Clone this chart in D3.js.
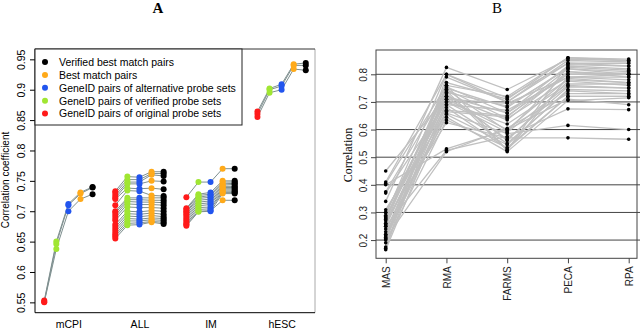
<!DOCTYPE html>
<html>
<head>
<meta charset="utf-8">
<script src="https://cdn.jsdelivr.net/npm/d3@7"></script>
<style>
  body { margin: 0; background: #fff; }
  text { font-family: "Liberation Sans", Arial, sans-serif; }
</style>
</head>
<body>
<script>
// ---- panel A data: one row per gene, values in series order ----
var groupsA = ["mCPI", "ALL", "IM", "hESC"];
var seriesA = ["GeneID pairs of original probe sets", "GeneID pairs of verified probe sets",
               "GeneID pairs of alternative probe sets", "Best match pairs", "Verified best match pairs"];
var colorsA = ["#ff1a1a", "#a0e632", "#2255ee", "#ffaa1a", "#000000"];
var yTicksA = [0.55, 0.6, 0.65, 0.7, 0.75, 0.8, 0.85, 0.9, 0.95];

var mcpiRows = [[0.553, 0.650, 0.712, 0.731, 0.740],
                [0.551, 0.646, 0.710, 0.729, 0.739],
                [0.550, 0.638, 0.700, 0.720, 0.728]];
var allRows = [[0.733, 0.757, 0.756, 0.765, 0.765],
               [0.730, 0.752, 0.752, 0.762, 0.762],
               [0.726, 0.748, 0.748, 0.760, 0.758],
               [0.722, 0.745, 0.745, 0.750, 0.749],
               [0.720, 0.738, 0.737, 0.738, 0.736],
               [0.710, 0.734, 0.733, 0.726, 0.725],
               [0.700, 0.722, 0.722, 0.722, 0.722],
               [0.697, 0.719, 0.719, 0.718, 0.718],
               [0.693, 0.716, 0.715, 0.715, 0.714],
               [0.689, 0.712, 0.711, 0.711, 0.710],
               [0.685, 0.707, 0.706, 0.706, 0.705],
               [0.678, 0.700, 0.699, 0.701, 0.700],
               [0.674, 0.696, 0.695, 0.697, 0.695],
               [0.670, 0.692, 0.691, 0.693, 0.691],
               [0.666, 0.688, 0.687, 0.689, 0.688],
               [0.662, 0.684, 0.684, 0.686, 0.685],
               [0.659, 0.680, 0.681, 0.683, 0.682],
               [0.655, 0.677, 0.678, 0.682, 0.679]];
var imRows = [[0.723, 0.748, 0.748, 0.770, 0.770],
              [0.705, 0.728, 0.731, 0.750, 0.750],
              [0.703, 0.726, 0.728, 0.748, 0.748],
              [0.700, 0.723, 0.726, 0.745, 0.746],
              [0.698, 0.721, 0.723, 0.743, 0.744],
              [0.695, 0.718, 0.720, 0.741, 0.741],
              [0.692, 0.715, 0.717, 0.739, 0.739],
              [0.689, 0.712, 0.714, 0.737, 0.737],
              [0.686, 0.709, 0.711, 0.735, 0.735],
              [0.683, 0.706, 0.707, 0.733, 0.733],
              [0.680, 0.703, 0.704, 0.731, 0.731],
              [0.678, 0.700, 0.701, 0.718, 0.718],
              [0.676, 0.699, 0.700, 0.729, 0.729]];
var hescRows = [[0.864, 0.902, 0.909, 0.942, 0.944],
                [0.860, 0.900, 0.906, 0.940, 0.940],
                [0.855, 0.895, 0.900, 0.934, 0.932]];

// ---- panel B data: one row per gene, values per method ----
var methodsB = ["MAS", "RMA", "FARMS", "PECA", "RPA"];
var yTicksB = [0.2, 0.3, 0.4, 0.5, 0.6, 0.7, 0.8];
var rowsB = [[0.450, 0.720, 0.660, 0.800, 0.800],
             [0.410, 0.800, 0.700, 0.840, 0.830],
             [0.405, 0.760, 0.720, 0.860, 0.855],
             [0.400, 0.530, 0.600, 0.710, 0.690],
             [0.375, 0.745, 0.640, 0.780, 0.770],
             [0.370, 0.700, 0.590, 0.760, 0.750],
             [0.340, 0.825, 0.745, 0.855, 0.850],
             [0.310, 0.660, 0.585, 0.615, 0.600],
             [0.300, 0.735, 0.685, 0.820, 0.810],
             [0.290, 0.800, 0.715, 0.840, 0.840],
             [0.285, 0.690, 0.550, 0.740, 0.730],
             [0.280, 0.755, 0.660, 0.830, 0.820],
             [0.275, 0.720, 0.635, 0.810, 0.790],
             [0.270, 0.625, 0.570, 0.570, 0.565],
             [0.260, 0.680, 0.530, 0.720, 0.720],
             [0.255, 0.710, 0.695, 0.790, 0.780],
             [0.250, 0.525, 0.575, 0.675, 0.672],
             [0.240, 0.645, 0.520, 0.705, 0.715],
             [0.230, 0.730, 0.560, 0.775, 0.760],
             [0.220, 0.670, 0.650, 0.800, 0.805],
             [0.215, 0.760, 0.525, 0.835, 0.830],
             [0.210, 0.655, 0.545, 0.745, 0.740],
             [0.205, 0.520, 0.605, 0.730, 0.730],
             [0.200, 0.700, 0.620, 0.765, 0.765],
             [0.190, 0.635, 0.535, 0.720, 0.720],
             [0.175, 0.790, 0.700, 0.850, 0.845],
             [0.170, 0.745, 0.595, 0.810, 0.800],
             [0.165, 0.690, 0.670, 0.790, 0.790],
             [0.300, 0.720, 0.565, 0.755, 0.750],
             [0.280, 0.750, 0.680, 0.825, 0.815],
             [0.250, 0.710, 0.600, 0.785, 0.770],
             [0.220, 0.665, 0.645, 0.820, 0.800],
             [0.260, 0.770, 0.710, 0.860, 0.850],
             [0.205, 0.740, 0.525, 0.790, 0.800]];

var width = 640;
var height = 329;

var svg = d3.select("body").append("svg").attr("width", width).attr("height", height);

// ================= panel A =================
var xA = d3.scaleLinear().domain([0.53, 4.47]).range([35, 315]);
var yA = d3.scaleLinear().domain([0.533, 0.967]).range([312.7, 49]);
var offsetsA = [-0.34, -0.17, 0, 0.17, 0.34];

function drawPanelA() {
    var g = svg.append("g");
    var allGroups = [mcpiRows, allRows, imRows, hescRows];

    g.append("text").attr("x", 158).attr("y", 13).attr("text-anchor", "middle")
        .style("font-family", "'Liberation Serif', 'DejaVu Serif', serif")
        .style("font-size", "15px").style("font-weight", "bold").text("A");

    // frame
    g.append("line").attr("x1", 315).attr("x2", 315).attr("y1", 49).attr("y2", 312.7)
        .attr("stroke", "#aaa").attr("stroke-width", 1);
    g.append("line").attr("x1", 35).attr("x2", 315).attr("y1", 49).attr("y2", 49)
        .attr("stroke", "#333").attr("stroke-width", 1);

    var line = d3.line().x(function(d) { return d[0]; }).y(function(d) { return d[1]; });

    allGroups.forEach(function(rows, gi) {
        rows.forEach(function(row) {
            var pts = row.map(function(v, si) { return [xA(gi + 1 + offsetsA[si]), yA(v)]; });
            g.append("path").attr("d", line(pts)).attr("fill", "none")
                .attr("stroke", "#7f9090").attr("stroke-width", 1);
        });
    });
    allGroups.forEach(function(rows, gi) {
        seriesA.forEach(function(s, si) {
            g.selectAll(null).data(rows).enter().append("circle")
                .attr("cx", xA(gi + 1 + offsetsA[si]))
                .attr("cy", function(d) { return yA(d[si]); })
                .attr("r", 3)
                .attr("fill", colorsA[si]);
        });
    });

    // y axis
    var yAxis = g.append("g").attr("transform", "translate(35,0)")
        .call(d3.axisLeft(yA).tickValues(yTicksA).tickSize(5).tickFormat(function(d) { return String(+d.toFixed(2)); }));
    yAxis.select(".domain").attr("d", "M0,49V312.7").attr("stroke", "#000");
    yAxis.selectAll("text").attr("transform", "rotate(-90)").attr("x", 0).attr("y", -10.5)
        .attr("dy", 0).style("text-anchor", "middle").style("font-size", "10.5px")
        .style("font-family", "'Liberation Sans', Arial, sans-serif").attr("fill", "#000");

    // x axis
    var xAxis = g.append("g").attr("transform", "translate(0,312.7)")
        .call(d3.axisBottom(xA).tickValues([1, 2, 3, 4]).tickSize(0)
            .tickFormat(function(d) { return groupsA[d - 1]; }));
    xAxis.select(".domain").attr("d", "M35,0H315").attr("stroke", "#000");
    xAxis.selectAll("text").attr("y", 15.5).attr("dy", 0).style("font-size", "10.5px")
        .style("font-family", "'Liberation Sans', Arial, sans-serif").attr("fill", "#000");

    g.append("text").attr("transform", "translate(9,180) rotate(-90)")
        .attr("text-anchor", "middle").style("font-size", "10px").text("Correlation coefficient");

    // legend (reverse order: black first)
    var legend = g.append("g");
    legend.append("rect").attr("x", 35).attr("y", 49).attr("width", 207).attr("height", 76)
        .attr("fill", "#fff").attr("stroke", "#222").attr("stroke-width", 1);
    var legendOrder = [4, 3, 2, 1, 0];
    legendOrder.forEach(function(si, i) {
        legend.append("circle").attr("cx", 45).attr("cy", 62 + i * 12.9).attr("r", 3).attr("fill", colorsA[si]);
        legend.append("text").attr("x", 59).attr("y", 65.8 + i * 12.9)
            .style("font-size", "10.5px").text(seriesA[si]);
    });
}

// ================= panel B =================
var xB = d3.scaleLinear().domain([1, 5]).range([385.7, 628.7]);
var yB = d3.scaleLinear().domain([0.134, 0.888]).range([258.3, 50]);

function drawPanelB() {
    var g = svg.append("g");

    g.append("text").attr("x", 497).attr("y", 13).attr("text-anchor", "middle")
        .style("font-family", "'Liberation Serif', 'DejaVu Serif', serif")
        .style("font-size", "15px").text("B");

    // grid lines
    g.selectAll(null).data(yTicksB).enter().append("line")
        .attr("x1", 376).attr("x2", 640)
        .attr("y1", function(d) { return yB(d); }).attr("y2", function(d) { return yB(d); })
        .attr("stroke", "#444").attr("stroke-width", 1);

    var line = d3.line().x(function(d, i) { return xB(i + 1); }).y(function(d) { return yB(d); });
    g.selectAll(null).data(rowsB).enter().append("path")
        .attr("d", line).attr("fill", "none")
        .attr("stroke", "#c0c0c0").attr("stroke-width", 1.3);

    methodsB.forEach(function(m, mi) {
        g.selectAll(null).data(rowsB).enter().append("circle")
            .attr("cx", xB(mi + 1))
            .attr("cy", function(d) { return yB(d[mi]); })
            .attr("r", 1.8).attr("fill", "#000");
    });

    g.append("rect").attr("x", 376).attr("y", 50).attr("width", 261).attr("height", 208.3)
        .attr("fill", "none").attr("stroke", "#444").attr("stroke-width", 1);

    var yAxis = g.append("g").attr("transform", "translate(376,0)")
        .call(d3.axisLeft(yB).tickValues(yTicksB).tickSize(5).tickFormat(d3.format(".1f")));
    yAxis.select(".domain").remove();
    yAxis.selectAll("line").attr("stroke", "#444");
    yAxis.selectAll("text").attr("transform", "rotate(-90)").attr("x", 0).attr("y", -9.5)
        .attr("dy", 0).style("text-anchor", "middle").style("font-size", "10px")
        .style("font-family", "'Liberation Sans', Arial, sans-serif").attr("fill", "#222");

    var xAxis = g.append("g").attr("transform", "translate(0,258.3)")
        .call(d3.axisBottom(xB).tickValues([1, 2, 3, 4, 5]).tickSize(5)
            .tickFormat(function(d) { return methodsB[d - 1]; }));
    xAxis.select(".domain").remove();
    xAxis.selectAll("line").attr("stroke", "#444");
    xAxis.selectAll("text").attr("transform", "rotate(-90)").attr("x", -8).attr("y", 3.6)
        .attr("dy", 0).style("text-anchor", "end").style("font-size", "10px")
        .style("font-family", "'Liberation Sans', Arial, sans-serif").attr("fill", "#222");

    g.append("text").attr("transform", "translate(352,155) rotate(-90)")
        .attr("text-anchor", "middle")
        .style("font-family", "'Liberation Serif', 'DejaVu Serif', serif")
        .style("font-size", "12px").text("Correlation");
}

drawPanelA();
drawPanelB();
</script>
</body>
</html>
